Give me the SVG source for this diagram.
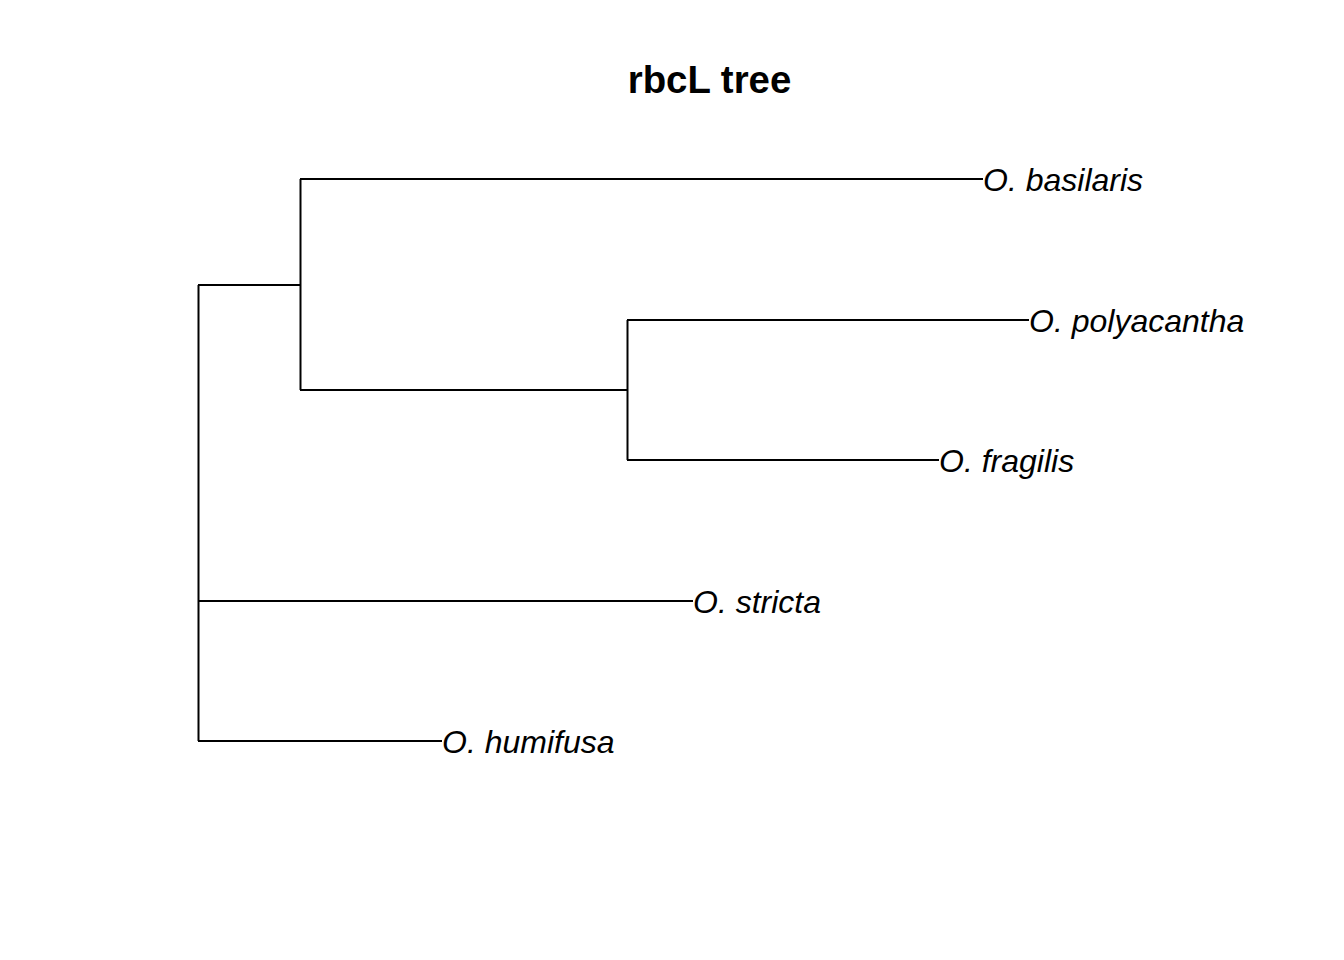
<svg xmlns="http://www.w3.org/2000/svg" width="1344" height="960" viewBox="0 0 1344 960">
<style>
.e{stroke:#000;stroke-width:2;fill:none;stroke-linecap:butt}
.t{font-family:"Liberation Sans",Arial,sans-serif;font-style:italic;font-size:32px;fill:#000}
.h{font-family:"Liberation Sans",Arial,sans-serif;font-weight:bold;font-size:38.4px;fill:#000}
</style>
<rect width="1344" height="960" fill="#fff"/>
<text class="h" x="709.5" y="93" text-anchor="middle">rbcL tree</text>
<g id="connectors">
<path class="e" d="M198.5,285 V741"/>
<path class="e" d="M198,285 H300.5"/>
<path class="e" d="M300.5,179 V390"/>
<path class="e" d="M300,179 H983"/>
<path class="e" d="M300,390 H627.5"/>
<path class="e" d="M627.5,320 V460"/>
<path class="e" d="M627,320 H1029"/>
<path class="e" d="M627,460 H939"/>
<path class="e" d="M198,601 H693"/>
<path class="e" d="M198,741 H442"/>
</g>
<g id="basilaris"><text class="t" x="983" y="191">O. basilaris</text></g>
<g id="polyacantha"><text class="t" x="1029" y="332">O. polyacantha</text></g>
<g id="fragilis"><text class="t" x="939" y="472">O. fragilis</text></g>
<g id="stricta"><text class="t" x="693" y="613">O. stricta</text></g>
<g id="humifusa"><text class="t" x="442" y="753">O. humifusa</text></g>
</svg>
